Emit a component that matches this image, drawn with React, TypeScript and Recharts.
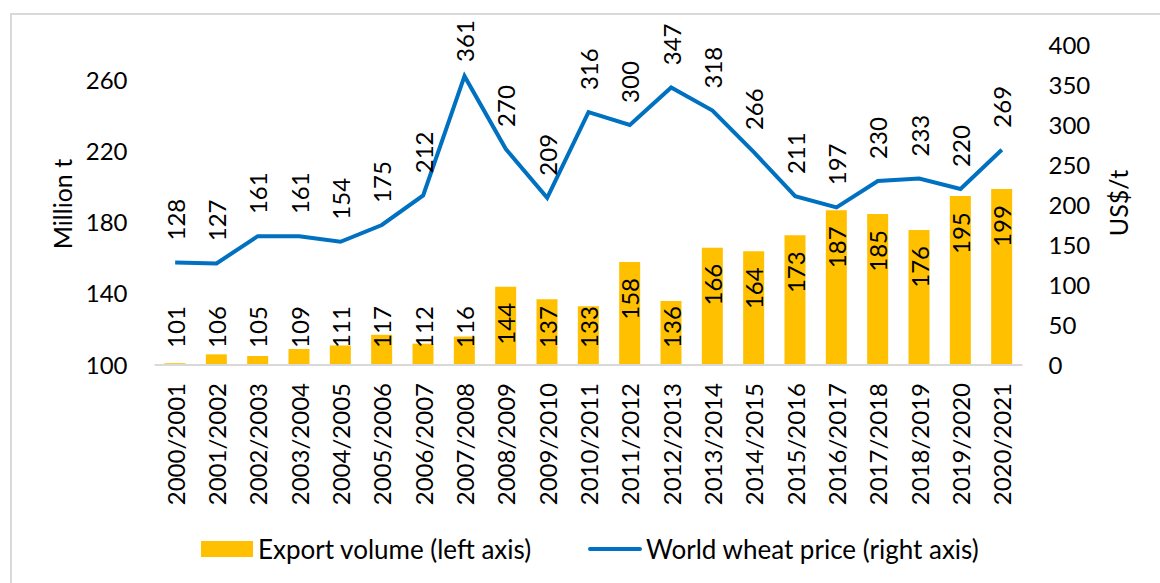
import { ComposedChart, Bar, Line, XAxis, YAxis, LabelList } from "recharts"

// ─── Data ────────────────────────────────────────────────────────────────────
const seasons = [
  "2000/2001", "2001/2002", "2002/2003", "2003/2004", "2004/2005", "2005/2006", "2006/2007",
  "2007/2008", "2008/2009", "2009/2010", "2010/2011", "2011/2012", "2012/2013", "2013/2014",
  "2014/2015", "2015/2016", "2016/2017", "2017/2018", "2018/2019", "2019/2020", "2020/2021",
]
const exportVolume = [101, 106, 105, 109, 111, 117, 112, 116, 144, 137, 133, 158, 136, 166, 164, 173, 187, 185, 176, 195, 199]
const wheatPrice = [128, 127, 161, 161, 154, 175, 212, 361, 270, 209, 316, 300, 347, 318, 266, 211, 197, 230, 233, 220, 269]
const leftTicks = [100, 140, 180, 220, 260]
const rightTicks = [0, 50, 100, 150, 200, 250, 300, 350, 400]

const data = seasons.map((season, i) => ({
  season,
  volume: exportVolume[i],
  price: wheatPrice[i],
}))

const FONT = "Lato, 'Open Sans', sans-serif"
const BAR = "#FFC000"
const LINE = "#0070C0"
const BASE_Y = 365

// ─── Custom ticks & labels ───────────────────────────────────────────────────
function SeasonTick({ x, y, payload }: any) {
  return (
    <text
      transform={`translate(${x},${y + 18}) rotate(-90)`}
      textAnchor="end"
      dominantBaseline="central"
      fill="#000"
      fontSize={24}
      fontFamily={FONT}
    >
      {payload.value}
    </text>
  )
}

function BarValue({ x, y, width, value }: any) {
  const cx = x + width / 2
  const cy = Math.min(y + 37, BASE_Y - 38)
  return (
    <text
      transform={`translate(${cx},${cy}) rotate(-90)`}
      textAnchor="middle"
      dominantBaseline="central"
      fill="#000"
      fontSize={24}
      fontFamily={FONT}
    >
      {value}
    </text>
  )
}

function PriceValue({ x, y, value }: any) {
  const cy = Math.max(y - 43, 41)
  return (
    <text
      transform={`translate(${x},${cy}) rotate(-90)`}
      textAnchor="middle"
      dominantBaseline="central"
      fill="#000"
      fontSize={24}
      fontFamily={FONT}
    >
      {value}
    </text>
  )
}

function AxisTitle({ text, cx, cy }: { text: string; cx: number; cy: number }) {
  return (
    <text
      transform={`translate(${cx},${cy}) rotate(-90)`}
      textAnchor="middle"
      dominantBaseline="central"
      fill="#000"
      fontSize={25}
      fontFamily={FONT}
    >
      {text}
    </text>
  )
}

// ─── Main component ──────────────────────────────────────────────────────────
export default function App() {
  return (
    <div
      style={{
        position: "absolute",
        left: 0,
        top: 0,
        width: 1160,
        height: 583,
        overflow: "hidden",
        background: "#fff",
        fontFamily: FONT,
      }}
    >
      {/* chart frame */}
      <div
        style={{
          position: "absolute",
          left: 10,
          top: 13,
          width: 1200,
          height: 620,
          border: "2px solid #d9d9d9",
        }}
      />

      <ComposedChart
        width={1160}
        height={583}
        data={data}
        margin={{ top: 45, right: 57.5, left: 74.5, bottom: 78 }}
        style={{ position: "absolute", left: 0, top: 0 }}
      >
        <XAxis
          dataKey="season"
          interval={0}
          height={140}
          tickSize={0}
          tickMargin={0}
          tick={<SeasonTick />}
          axisLine={{ stroke: "#d9d9d9", strokeWidth: 2 }}
          tickLine={false}
        />
        <YAxis
          yAxisId="left"
          domain={[100, 280]}
          ticks={leftTicks}
          width={80}
          tickSize={0}
          tickMargin={27}
          axisLine={false}
          tickLine={false}
          tick={{ fill: "#000", fontSize: 24, fontFamily: FONT }}
        />
        <YAxis
          yAxisId="right"
          orientation="right"
          domain={[0, 400]}
          ticks={rightTicks}
          width={80}
          tickSize={0}
          tickMargin={26}
          axisLine={false}
          tickLine={false}
          tick={{ fill: "#000", fontSize: 24, fontFamily: FONT }}
        />

        <Bar yAxisId="left" dataKey="volume" fill={BAR} barSize={21} isAnimationActive={false}>
          <LabelList dataKey="volume" content={<BarValue />} />
        </Bar>
        <Line
          yAxisId="right"
          type="linear"
          dataKey="price"
          stroke={LINE}
          strokeWidth={4}
          dot={false}
          isAnimationActive={false}
        >
          <LabelList dataKey="price" content={<PriceValue />} />
        </Line>

        <AxisTitle text="Million t" cx={62} cy={204} />
        <AxisTitle text="US$/t" cx={1118} cy={203} />
      </ComposedChart>

      {/* legend */}
      <div style={{ position: "absolute", top: 531, left: 0, height: 36, width: 1160, fontSize: 26, color: "#000", whiteSpace: "nowrap" }}>
        <span style={{ position: "absolute", left: 201, top: 10, width: 52, height: 16, background: BAR }} />
        <span style={{ position: "absolute", left: 258, top: 0, lineHeight: "36px" }}>Export volume (left axis)</span>
        <span style={{ position: "absolute", left: 588, top: 16, width: 54, height: 4, borderRadius: 2, background: LINE }} />
        <span style={{ position: "absolute", left: 646, top: 0, lineHeight: "36px" }}>World wheat price (right axis)</span>
      </div>
    </div>
  )
}
